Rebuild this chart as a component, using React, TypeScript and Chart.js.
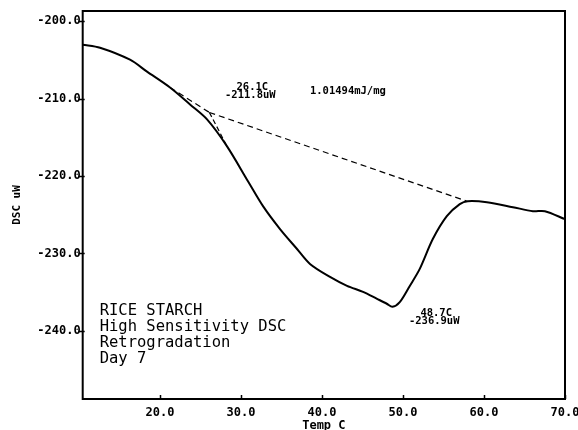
import React, { useEffect, useRef } from "react";
import { Chart, registerables } from "chart.js";

Chart.register(...registerables);

// Temperature (°C) and heat flow (uW)
const tempC = [10.46, 12.6, 16.3, 18.4, 21.24, 23.71, 25.81, 28.28, 30.9, 32.72, 34.82, 36.92, 38.52, 40.99, 43.09, 45.07, 46.8, 48.0, 48.7, 49.6, 50.84, 52.07, 53.68, 55.41, 57.01, 58.0, 60.36, 63.57, 66.04, 67.52, 70.0];
const dscUW = [-203.05, -203.44, -204.99, -206.53, -208.58, -210.77, -212.7, -216.18, -220.75, -223.9, -226.86, -229.43, -231.36, -233.04, -234.19, -234.97, -235.87, -236.5, -236.9, -236.3, -234.2, -232.0, -228.15, -225.19, -223.64, -223.26, -223.39, -224.03, -224.55, -224.55, -225.58];

// Integration baseline (onset → end)
const baselineX = [26.1, 58.0];
const baselineY = [-211.8, -223.3];
// Pre-transition extrapolated baseline
const preX = [21.24, 26.1];
const preY = [-208.58, -211.8];
// Leading edge tangent
const tanX = [26.1, 28.28];
const tanY = [-211.8, -216.18];

const xTicks = [20, 30, 40, 50, 60, 70];
const yTicks = [-240, -230, -220, -210, -200];

const infoLines = ["RICE STARCH", "High Sensitivity DSC", "Retrogradation", "Day 7"];
const onsetLabel = ["26.1C", "-211.8uW"];
const peakLabel = ["48.7C", "-236.9uW"];
const enthalpyLabel = "1.01494mJ/mg";

const MONO = "'DejaVu Sans Mono', 'Liberation Mono', monospace";

const pts = (xs: number[], ys: number[]) => xs.map((x, i) => ({ x, y: ys[i] }));

const decorPlugin = {
  id: "decor",
  afterDatasetsDraw(chart: any) {
    const { ctx, chartArea: a, scales } = chart;
    const xs = scales.x;
    const ys = scales.y;
    ctx.save();
    // frame
    ctx.strokeStyle = "#000";
    ctx.lineWidth = 2;
    ctx.strokeRect(a.left, a.top, a.right - a.left, a.bottom - a.top);
    // ticks
    ctx.lineWidth = 1.5;
    ctx.beginPath();
    xTicks.forEach((v) => {
      const px = Math.round(xs.getPixelForValue(v)) + 0.5;
      ctx.moveTo(px, a.bottom);
      ctx.lineTo(px, a.bottom - 4);
    });
    yTicks.forEach((v) => {
      const py = Math.round(ys.getPixelForValue(v)) + 0.5;
      ctx.moveTo(a.left - 4, py);
      ctx.lineTo(a.left + 2, py);
    });
    ctx.stroke();
    // annotations
    ctx.fillStyle = "#000";
    ctx.textAlign = "center";
    ctx.textBaseline = "middle";
    ctx.font = `bold 10.5px ${MONO}`;
    const ox = xs.getPixelForValue(31.4);
    const oy = ys.getPixelForValue(-208.6);
    ctx.fillText(onsetLabel[0], ox, oy);
    ctx.fillText(onsetLabel[1], ox - 2, oy + 8);
    ctx.fillText(enthalpyLabel, xs.getPixelForValue(43.2), ys.getPixelForValue(-209.1));
    const px = xs.getPixelForValue(54.1);
    const py = ys.getPixelForValue(-237.7);
    ctx.fillText(peakLabel[0], px, py);
    ctx.fillText(peakLabel[1], px - 2, py + 8);
    // info block
    ctx.textAlign = "left";
    ctx.font = `15.5px ${MONO}`;
    const lx = a.left + 17;
    infoLines.forEach((t, i) => {
      ctx.fillText(t, lx, 311 + i * 16);
    });
    ctx.restore();
  },
};

export default function App() {
  const ref = useRef<HTMLCanvasElement>(null);
  useEffect(() => {
    if (!ref.current) return;
    const chart = new Chart(ref.current, {
      type: "line",
      data: {
        datasets: [
          {
            data: pts(tempC, dscUW),
            borderColor: "#000",
            borderWidth: 2,
            pointRadius: 0,
            tension: 0.3,
            fill: false,
          },
          {
            data: pts(baselineX, baselineY),
            borderColor: "#000",
            borderWidth: 1.2,
            borderDash: [6, 4],
            pointRadius: 0,
          },
          {
            data: pts(preX, preY),
            borderColor: "#000",
            borderWidth: 1.2,
            borderDash: [6, 4],
            pointRadius: 0,
          },
          {
            data: pts(tanX, tanY),
            borderColor: "#000",
            borderWidth: 1.2,
            borderDash: [5, 3],
            pointRadius: 0,
          },
        ],
      },
      options: {
        animation: false,
        responsive: false,
        maintainAspectRatio: false,
        layout: { padding: { top: 11, right: 13, left: 0, bottom: 0 } },
        plugins: { legend: { display: false }, tooltip: { enabled: false } },
        scales: {
          x: {
            type: "linear",
            min: 10.46,
            max: 70,
            afterBuildTicks: (s: any) => {
              s.ticks = xTicks.map((v) => ({ value: v }));
            },
            afterFit: (s: any) => {
              s.height = 31;
              s.paddingLeft = 0;
              s.paddingRight = 0;
            },
            grid: { display: false, drawTicks: false },
            border: { display: false },
            ticks: {
              color: "#000",
              font: { family: MONO, size: 12, weight: "bold" },
              padding: 7,
              maxRotation: 0,
              callback: (v: any) => Number(v).toFixed(1),
            },
            title: {
              display: true,
              text: "Temp C",
              color: "#000",
              font: { family: MONO, size: 12, weight: "bold" },
              padding: { top: 0, bottom: -3 },
            },
          },
          y: {
            type: "linear",
            min: -248.8,
            max: -198.7,
            afterBuildTicks: (s: any) => {
              s.ticks = yTicks.map((v) => ({ value: v }));
            },
            afterFit: (s: any) => {
              s.width = 82.7;
            },
            grid: { display: false, drawTicks: false },
            border: { display: false },
            ticks: {
              color: "#000",
              font: { family: MONO, size: 12, weight: "bold" },
              padding: 2,
              callback: (v: any) => Number(v).toFixed(1),
            },
            title: {
              display: true,
              text: "DSC uW",
              color: "#000",
              font: { family: MONO, size: 11, weight: "bold" },
              padding: { top: 11, bottom: 0 },
            },
          },
        },
      },
      plugins: [decorPlugin],
    } as any);
    return () => chart.destroy();
  }, []);
  return (
    <div style={{ position: "fixed", left: 0, top: 0, width: 578, height: 430, background: "#fff" }}>
      <canvas ref={ref} width={578} height={430} style={{ width: 578, height: 430 }} />
    </div>
  );
}
